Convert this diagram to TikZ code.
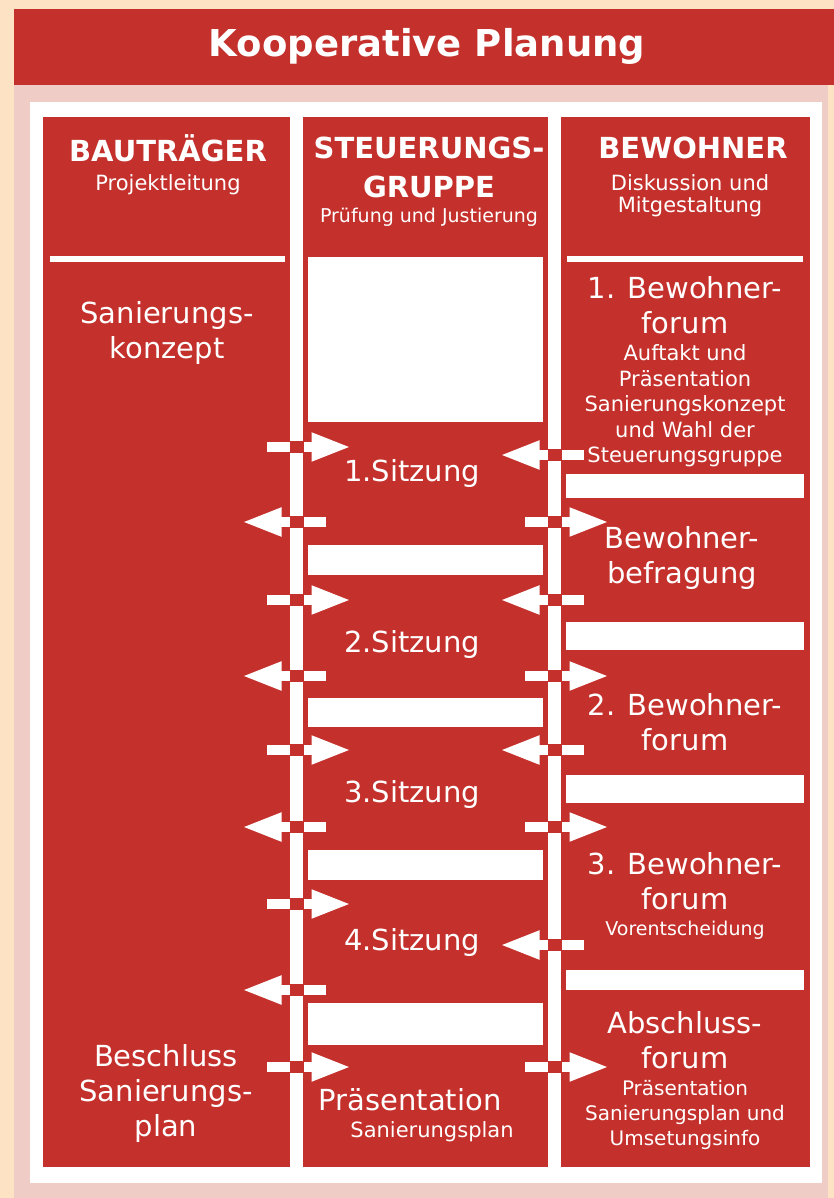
\documentclass[tikz,border=0pt]{standalone}
\usepackage{fontspec}
\setmainfont{DejaVu Sans}
\usetikzlibrary{arrows.meta}

\definecolor{kred}{HTML}{C4302B}
\definecolor{peach}{HTML}{FDE3C3}
\definecolor{rosa}{HTML}{EFCDC6}

\tikzset{%
  every column/.style={fill=kred},
  every bar/.style={fill=white},
  head text/.style={
    text=white,
    align=center,
    font=\bfseries\fontsize{14.5}{19.5}\selectfont
  },
  big text/.style={
    text=white,
    align=center,
    font=\fontsize{14.5}{17.5}\selectfont
  },
  small text/.style={
    text=white,
    align=center,
    font=\fontsize{10.5}{12.8}\selectfont
  },
  flow/.style={
    draw=white,
    line width=5pt,
    -{Triangle[length=20pt,width=13pt]}
  },
}

\begin{document}
\begin{tikzpicture}[x=0.5pt, y=-0.5pt]

\useasboundingbox (0,0) rectangle (834,1198);
\fill[peach] (0,0) rectangle (834,1198);
\fill[rosa] (14,85) rectangle (828,1198);
\fill[kred] (14,9) rectangle (834,85);
\fill[white] (30,102) rectangle (822,1183);

\node [text=white, font=\bfseries\fontsize{18.5}{20}\selectfont] (title) at (427,46) {Kooperative Planung};

\foreach \l/\r in {43/290, 303/548, 561/810}
  \fill [every column/.try] (\l,117) rectangle (\r,1167);

\fill [every bar/.try] (50,256) rectangle (285,262);
\fill [every bar/.try] (567,256) rectangle (803,262);
\fill [every bar/.try] (308,257) rectangle (543,422);

\foreach \t/\b in {545/575, 698/727, 850/880, 1003/1045}
  \fill [every bar/.try] (308,\t) rectangle (543,\b);

\foreach \t/\b in {474/498, 622/650, 775/803, 970/990}
  \fill [every bar/.try] (566,\t) rectangle (804,\b);

\foreach \yy/\dv/\dir [count=\i] in {447/296.5/1, 455/554.5/-1, 522/296.5/-1, 522/554.5/1,
    600/296.5/1, 600/554.5/-1, 676/296.5/-1, 676/554.5/1, 750/296.5/1, 750/554.5/-1,
    827/296.5/-1, 827/554.5/1, 904/296.5/1, 945/554.5/-1, 990/296.5/-1,
    1067/296.5/1, 1067/554.5/1} {
  \coordinate (arrow-\i-a) at ({\dv-(\dir)*29.5},\yy);
  \coordinate (arrow-\i-b) at ({\dv+(\dir)*55},\yy);
  \draw [flow] (arrow-\i-a) -- (arrow-\i-b);
  \fill [kred] ({\dv-7},{\yy-6}) rectangle ({\dv+7},{\yy+6});
}

\node [head text] (head-1) at (168,148) {BAUTRÄGER};
\node [small text] (sub-1) at (168,185) {Projektleitung};
\node [head text] (head-2) at (429,167) {STEUERUNGS-\\GRUPPE};
\node [small text, font=\fontsize{9.5}{11}\selectfont] (sub-2) at (429,217) {Prüfung und Justierung};
\node [head text] (head-3) at (693,148) {BEWOHNER};
\node [small text, font=\fontsize{10.5}{11}\selectfont] (sub-3) at (690,196) {Diskussion und\\Mitgestaltung};

\node [big text] (bt-1) at (167,333) {Sanierungs-\\konzept};
\node [big text] (bt-2) at (166,1093) {Beschluss\\Sanierungs-\\plan};

\foreach \t/\yy [count=\i] in {1.Sitzung/473, 2.Sitzung/644, 3.Sitzung/794, 4.Sitzung/942}
  \node [big text] (sitzung-\i) at (412,\yy) {\t};
\node [big text] (praes) at (410,1100) {Präsentation};
\node [small text] (praes-sub) at (432,1132) {Sanierungsplan};

\node [big text] (bw-1) at (685,305) {1. Bewohner-\\forum};
\node [small text] (bw-1-sub) at (685,406) {Auftakt und\\Präsentation\\Sanierungskonzept\\und Wahl der\\Steuerungsgruppe};
\node [big text] (bw-2) at (682,558) {Bewohner-\\befragung};
\node [big text] (bw-3) at (685,722) {2. Bewohner-\\forum};
\node [big text] (bw-4) at (685,881) {3. Bewohner-\\forum};
\node [small text, font=\fontsize{9.5}{11}\selectfont] (bw-4-sub) at (685,930) {Vorentscheidung};
\node [big text] (bw-5) at (685,1040) {Abschluss-\\forum};
\node [small text, font=\fontsize{10}{12.5}\selectfont] (bw-5-sub) at (685,1115) {Präsentation\\Sanierungsplan und\\Umsetungsinfo};

\end{tikzpicture}
\end{document}
